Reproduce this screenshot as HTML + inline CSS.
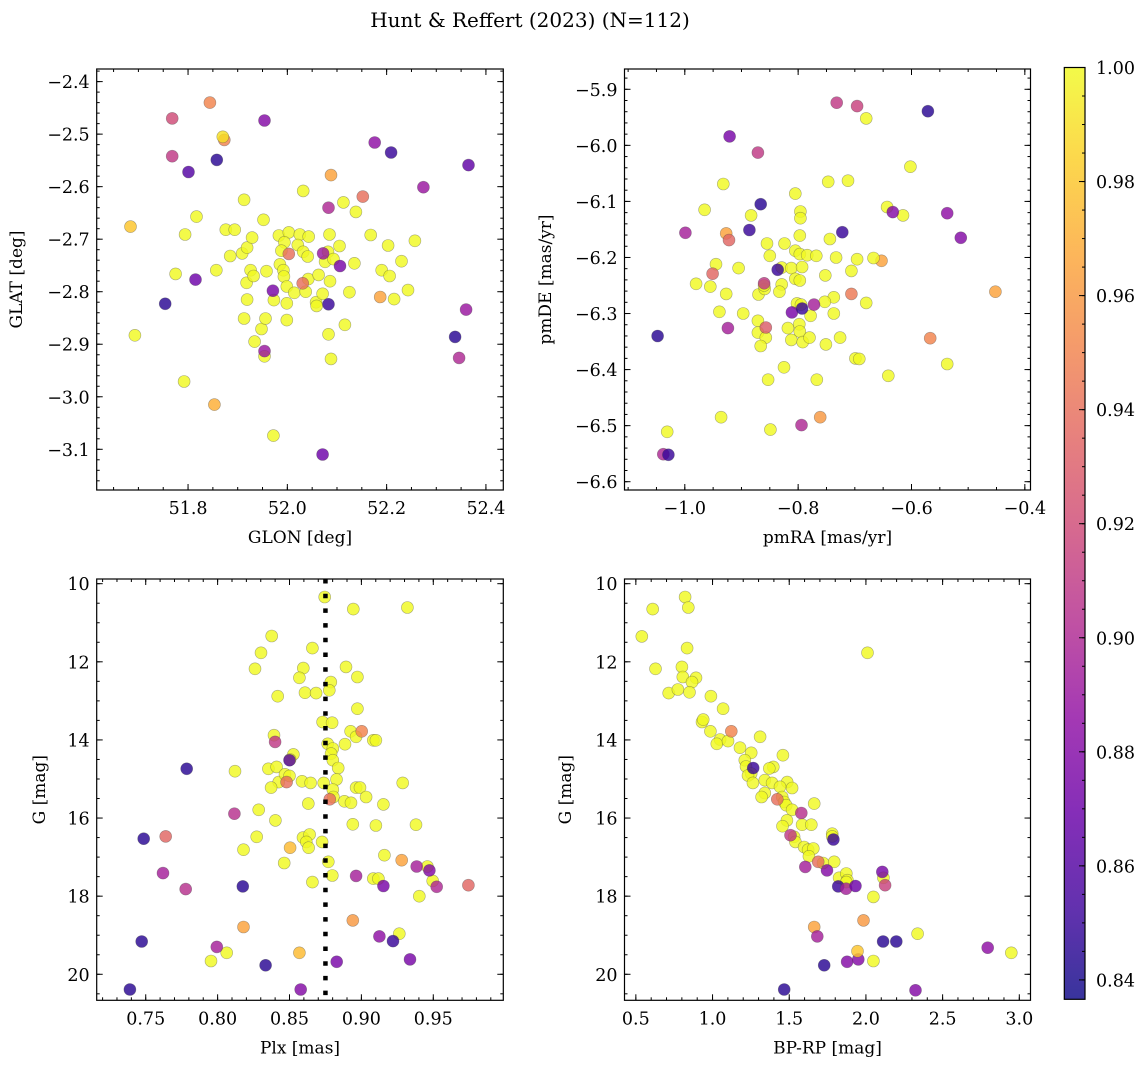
<!DOCTYPE html>
<html><head><meta charset="utf-8"><style>
body{margin:0;background:#fff}
svg{display:block;font-family:"DejaVu Serif","Liberation Serif",serif}
</style></head><body>
<svg id="fig" width="1148" height="1067" viewBox="0 0 1148 1067" xmlns="http://www.w3.org/2000/svg">
<rect width="1148" height="1067" fill="#fff"/>
<text x="530" y="27" font-size="20" text-anchor="middle">Hunt &amp; Reffert (2023) (N=112)</text>
<defs><linearGradient id="cg" x1="0" y1="1" x2="0" y2="0">
<stop offset="0" stop-color="#0d0887"/><stop offset="0.1" stop-color="#41049d"/><stop offset="0.2" stop-color="#6a00a8"/><stop offset="0.3" stop-color="#8f0da4"/><stop offset="0.4" stop-color="#b12a90"/><stop offset="0.5" stop-color="#cc4778"/><stop offset="0.6" stop-color="#e16462"/><stop offset="0.7" stop-color="#f2844b"/><stop offset="0.8" stop-color="#fca636"/><stop offset="0.9" stop-color="#fcce25"/><stop offset="1" stop-color="#f0f921"/>
</linearGradient></defs>
</svg>
<script>
// ---- Panel 1: GLON / GLAT
const p1_x=[51.817,51.794,51.775,51.857,51.876,51.894,51.885,51.913,51.909,51.919,51.929,51.926,51.918,51.932,51.919,51.913,51.948,51.934,51.956,51.954,51.952,51.958,51.973,51.983,52.003,51.994,51.988,51.985,51.992,51.993,51.999,51.999,51.999,52.014,52.032,52.025,52.021,52.032,52.041,52.043,52.042,52.037,52.058,52.059,52.071,52.085,52.082,52.076,52.093,52.086,52.105,52.113,52.138,52.135,52.125,52.116,52.083,52.088,52.168,52.203,52.19,52.206,52.23,52.215,52.243,52.257,52.063,51.693,51.792,51.972,
51.844,51.768,51.954,51.873,51.768,51.858,51.801,52.176,52.209,52.365,52.088,52.274,52.152,52.083,51.684,51.754,51.815,51.853,52.071,52.346,52.338,52.36,52.187,52.083,51.971,51.954,52.106,52.072,52.003,52.031,51.87];
const p1_y=[-2.657,-2.691,-2.766,-2.759,-2.682,-2.682,-2.732,-2.625,-2.727,-2.716,-2.697,-2.759,-2.783,-2.77,-2.815,-2.851,-2.871,-2.895,-2.851,-2.923,-2.663,-2.761,-2.816,-2.693,-2.687,-2.706,-2.722,-2.748,-2.759,-2.771,-2.79,-2.822,-2.854,-2.802,-2.608,-2.691,-2.711,-2.724,-2.733,-2.695,-2.776,-2.8,-2.82,-2.827,-2.804,-2.691,-2.724,-2.743,-2.738,-2.78,-2.713,-2.63,-2.648,-2.746,-2.801,-2.863,-2.881,-2.928,-2.692,-2.712,-2.759,-2.77,-2.742,-2.814,-2.797,-2.703,-2.768,-2.883,-2.971,-3.074,
-2.44,-2.47,-2.474,-2.511,-2.542,-2.549,-2.572,-2.516,-2.535,-2.559,-2.578,-2.601,-2.619,-2.64,-2.676,-2.823,-2.777,-3.015,-3.11,-2.926,-2.886,-2.834,-2.81,-2.824,-2.798,-2.913,-2.751,-2.727,-2.728,-2.784,-2.505];
const p1_p=[1,1,1,1,1,1,1,1,1,1,1,1,1,1,1,1,1,1,1,1,1,1,1,1,1,1,1,1,1,1,1,1,1,1,1,1,1,1,1,1,1,1,1,1,1,1,1,1,1,1,1,1,1,1,1,1,1,1,1,1,1,1,1,1,1,1,1,1,1,1,
0.95,0.92,0.88,0.95,0.91,0.845,0.86,0.885,0.85,0.865,0.965,0.89,0.94,0.9,0.98,0.845,0.87,0.97,0.87,0.9,0.845,0.89,0.965,0.85,0.875,0.89,0.875,0.89,0.94,0.94,0.99];
// ---- Panel 2: pmRA / pmDE
const p2_x=[-0.68,-0.602,-0.932,-0.747,-0.712,-0.805,-0.965,-0.883,-0.796,-0.796,-0.797,-0.643,-0.615,-0.855,-0.824,-0.744,-0.85,-0.805,-0.797,-0.784,-0.768,-0.733,-0.696,-0.945,-0.905,-0.829,-0.812,-0.793,-0.706,-0.752,-0.805,-0.797,-0.829,-0.98,-0.955,-0.927,-0.87,-0.859,-0.86,-0.833,-0.737,-0.753,-0.68,-0.802,-0.795,-0.778,-0.737,-0.939,-0.897,-0.871,-0.818,-0.798,-0.797,-0.871,-0.857,-0.866,-0.812,-0.792,-0.78,-0.751,-0.726,-0.699,-0.692,-0.537,-0.641,-0.825,-0.853,-0.767,-0.936,-0.849,-1.031,
-0.732,-0.696,-0.571,-0.921,-0.871,-0.866,-0.886,-0.722,-0.999,-0.927,-0.922,-0.633,-0.537,-0.513,-0.836,-0.951,-0.86,-0.452,-0.706,-0.653,-0.772,-0.811,-0.793,-0.924,-0.857,-1.048,-0.567,-0.761,-0.794,-1.038,-1.029,-0.667];
const p2_y=[-5.952,-6.038,-6.069,-6.065,-6.063,-6.086,-6.115,-6.125,-6.118,-6.13,-6.161,-6.11,-6.125,-6.175,-6.175,-6.167,-6.197,-6.188,-6.194,-6.196,-6.197,-6.2,-6.203,-6.212,-6.219,-6.218,-6.219,-6.217,-6.224,-6.232,-6.238,-6.241,-6.248,-6.247,-6.252,-6.265,-6.266,-6.256,-6.25,-6.261,-6.271,-6.279,-6.281,-6.282,-6.284,-6.304,-6.3,-6.297,-6.3,-6.313,-6.326,-6.319,-6.332,-6.334,-6.343,-6.358,-6.347,-6.351,-6.343,-6.355,-6.343,-6.38,-6.381,-6.39,-6.411,-6.396,-6.418,-6.418,-6.485,-6.507,-6.511,
-5.924,-5.93,-5.939,-5.984,-6.013,-6.105,-6.151,-6.155,-6.156,-6.157,-6.169,-6.119,-6.121,-6.165,-6.222,-6.229,-6.246,-6.261,-6.265,-6.206,-6.284,-6.298,-6.291,-6.326,-6.325,-6.34,-6.344,-6.485,-6.499,-6.551,-6.552,-6.201];
const p2_p=[1,1,1,1,1,1,1,1,1,1,1,1,1,1,1,1,1,1,1,1,1,1,1,1,1,1,1,1,1,1,1,1,1,1,1,1,1,1,1,1,1,1,1,1,1,1,1,1,1,1,1,1,1,1,1,1,1,1,1,1,1,1,1,1,1,1,1,1,1,1,1,
0.91,0.915,0.845,0.875,0.91,0.845,0.85,0.85,0.895,0.965,0.935,0.88,0.885,0.88,0.85,0.935,0.91,0.965,0.945,0.965,0.895,0.875,0.85,0.895,0.93,0.845,0.95,0.96,0.9,0.9,0.85,1];
// ---- Panel 3: Plx / G
const p3_x=[0.8745,0.8944,0.932,0.8376,0.8659,0.8302,0.826,0.8596,0.8569,0.8893,0.8972,0.8787,0.8777,0.8418,0.8608,0.8685,0.8972,0.873,0.8796,0.8392,0.8925,0.8963,0.8886,0.9083,0.9101,0.8766,0.8801,0.8789,0.8801,0.8527,0.8504,0.8353,0.841,0.8121,0.8839,0.8425,0.8469,0.85,0.8372,0.8587,0.8647,0.8738,0.8827,0.8801,0.8805,0.8963,0.899,0.9033,0.8882,0.8928,0.9153,0.8631,0.9287,0.8286,0.8402,0.894,0.9101,0.938,0.8272,0.8594,0.864,0.8617,0.8633,0.8727,0.818,0.8463,0.8659,0.877,0.8798,0.916,0.9083,0.9118,0.9459,0.9496,0.9403,0.9264,0.8063,0.7954,
0.7785,0.7486,0.7639,0.762,0.7778,0.8117,0.84,0.85,0.848,0.8175,0.818,0.7472,0.739,0.7994,0.8334,0.8569,0.8504,0.8578,0.8828,0.9002,0.878,0.894,0.9125,0.922,0.9338,0.8963,0.9153,0.928,0.9385,0.9473,0.9524,0.9744];
const p3_y=[10.34,10.65,10.61,11.34,11.65,11.77,12.18,12.16,12.41,12.13,12.39,12.52,12.73,12.88,12.79,12.8,13.2,13.54,13.56,13.88,13.78,13.92,14.11,14.01,14.01,14.1,14.22,14.35,14.52,14.37,14.5,14.74,14.69,14.8,14.72,15.08,14.88,14.92,15.22,15.06,15.1,15.1,15.01,15.27,15.46,15.22,15.22,15.46,15.57,15.61,15.65,15.63,15.1,15.79,16.06,16.16,16.19,16.17,16.48,16.5,16.42,16.61,16.76,16.61,16.81,17.15,17.64,17.12,17.47,16.95,17.55,17.55,17.24,17.61,18.0,18.96,19.45,19.66,
14.74,16.53,16.47,17.41,17.82,15.89,14.05,14.52,15.08,17.75,18.79,19.16,20.39,19.3,19.77,19.45,16.76,20.39,19.68,13.78,15.52,18.62,19.03,19.15,19.62,17.48,17.74,17.08,17.24,17.34,17.76,17.72];
const p3_p=[1,1,1,1,1,1,1,1,1,1,1,1,1,1,1,1,1,1,1,1,1,1,1,1,1,1,1,1,1,1,1,1,1,1,1,1,1,1,1,1,1,1,1,1,1,1,1,1,1,1,1,1,1,1,1,1,1,1,1,1,1,1,1,1,1,1,1,1,1,1,1,1,1,1,1,1,1,1,
0.845,0.845,0.935,0.895,0.905,0.905,0.91,0.86,0.94,0.845,0.965,0.845,0.845,0.895,0.845,0.975,0.975,0.88,0.875,0.95,0.94,0.96,0.885,0.85,0.875,0.895,0.875,0.965,0.895,0.88,0.9,0.935];
const plxMean=0.875;
// ---- Panel 4: BP-RP / G
const p4_x=[0.821,0.61,0.842,0.539,0.834,2.01,0.628,0.8,0.806,0.892,0.866,0.714,0.774,0.85,0.989,1.069,0.931,0.939,0.986,1.31,1.049,1.028,1.101,1.179,1.252,1.459,1.21,1.218,1.252,1.396,1.37,1.231,1.263,1.341,1.388,1.487,1.519,1.44,1.341,1.32,1.454,1.467,1.48,1.519,1.663,1.485,1.456,1.584,1.644,1.78,1.78,1.532,1.54,1.597,1.623,1.657,1.628,1.72,1.793,1.825,1.872,1.879,1.872,2.114,2.049,2.337,2.049,2.948,
1.122,1.265,1.422,1.579,1.508,1.788,1.605,1.689,1.746,1.819,1.871,1.932,2.107,2.125,1.663,1.683,1.984,2.112,2.198,1.728,1.877,1.95,1.945,1.467,2.323,2.794];
const p4_y=[10.34,10.65,10.61,11.35,11.65,11.77,12.18,12.13,12.39,12.41,12.52,12.8,12.71,12.78,12.88,13.2,13.54,13.48,13.78,13.92,13.99,14.1,14.03,14.2,14.33,14.39,14.52,14.68,14.86,14.69,14.73,14.91,15.1,15.03,15.1,15.08,15.23,15.2,15.36,15.46,15.46,15.59,15.67,15.79,15.63,16.06,16.21,16.17,16.17,16.4,16.47,16.48,16.61,16.74,16.81,16.78,16.98,17.15,17.12,17.53,17.42,17.59,17.64,17.53,18.02,18.96,19.66,19.45,
13.78,14.72,15.52,15.87,16.44,16.55,17.25,17.12,17.34,17.75,17.81,17.74,17.38,17.72,18.79,19.03,18.62,19.16,19.16,19.77,19.68,19.62,19.41,20.39,20.41,19.32];
const p4_p=[1,1,1,1,1,1,1,1,1,1,1,1,1,1,1,1,1,1,1,1,1,1,1,1,1,1,1,1,1,1,1,1,1,1,1,1,1,1,1,1,1,1,1,1,1,1,1,1,1,1,1,1,1,1,1,1,1,1,1,1,1,1,1,1,1,1,1,1,
0.95,0.85,0.94,0.905,0.91,0.85,0.895,0.94,0.88,0.85,0.895,0.87,0.875,0.915,0.965,0.895,0.96,0.845,0.845,0.845,0.88,0.88,0.98,0.845,0.88,0.885];
// ---- Colorbar
const cbMin=0.8366, cbMax=1.0;
const cbTicks=[0.84,0.86,0.88,0.90,0.92,0.94,0.96,0.98,1.00];

const NS="http://www.w3.org/2000/svg";
const svg=document.getElementById('fig');
function el(tag,attrs,parent){const e=document.createElementNS(NS,tag);for(const k in attrs)e.setAttribute(k,attrs[k]);(parent||svg).appendChild(e);return e;}
const stops=[[13,8,135],[65,4,157],[106,0,168],[143,13,164],[177,42,144],[204,71,120],[225,100,98],[242,132,75],[252,166,54],[252,206,37],[240,249,33]];
function plasma(v){let t=(v-cbMin)/(cbMax-cbMin);t=Math.max(0,Math.min(1,t))*10;const i=Math.min(9,Math.floor(t)),f=t-i;const a=stops[i],b=stops[i+1];return 'rgb('+a.map((c,k)=>Math.round(c+(b[k]-c)*f)).join(',')+')';}
function fmt(v,d){return v.toFixed(d).replace('-','\u2212');}
function ticksBetween(a,b,step){const out=[];const s=Math.ceil(Math.min(a,b)/step-1e-6);for(let k=s;k*step<=Math.max(a,b)+1e-9;k++)out.push(+(k*step).toFixed(6));return out;}

function panel(name,box,xr,yr,xs,ys,cols,xMaj,xMin,xDec,yMaj,yMin,yDec,xlab,ylab,ylabX){
  const [L,T,R,B]=box;
  const g=el('g',{});
  
  
  const X=v=>L+(v-xr[0])/(xr[1]-xr[0])*(R-L);
  const Y=v=>T+(v-yr[0])/(yr[1]-yr[0])*(B-T);
  const cl='clip-'+name;
  const cp=el('clipPath',{id:cl},g);el('rect',{x:L,y:T,width:R-L,height:B-T},cp);
  const pts=el('g',{'clip-path':'url(#'+cl+')'},g);
  for(let i=0;i<xs.length;i++){
    const c=el('circle',{cx:X(xs[i]).toFixed(1),cy:Y(ys[i]).toFixed(1),r:6,fill:plasma(cols[i]),'fill-opacity':0.82,stroke:'#444','stroke-opacity':0.45,'stroke-width':0.6},pts);
    
    
  }
  const tk=el('g',{stroke:'#000','stroke-width':1},g);
  ticksBetween(xr[0],xr[1],xMin).forEach(v=>{const x=X(v);el('line',{x1:x,x2:x,y1:B,y2:B-3},tk);el('line',{x1:x,x2:x,y1:T,y2:T+3},tk);});
  ticksBetween(xr[0],xr[1],xMaj).forEach(v=>{const x=X(v);el('line',{x1:x,x2:x,y1:B,y2:B-6},tk);el('line',{x1:x,x2:x,y1:T,y2:T+6},tk);
    const t=el('text',{x:x,y:B+24,'font-size':17.5,'text-anchor':'middle',stroke:'none'},g);t.textContent=fmt(v,xDec);
    
    });
  ticksBetween(yr[0],yr[1],yMin).forEach(v=>{const y=Y(v);el('line',{x1:L,x2:L+3,y1:y,y2:y},tk);el('line',{x1:R,x2:R-3,y1:y,y2:y},tk);});
  ticksBetween(yr[0],yr[1],yMaj).forEach(v=>{const y=Y(v);el('line',{x1:L,x2:L+6,y1:y,y2:y},tk);el('line',{x1:R,x2:R-6,y1:y,y2:y},tk);
    const t=el('text',{x:L-7,y:y+6.5,'font-size':17.5,'text-anchor':'end'},g);t.textContent=fmt(v,yDec);
    
    });
  el('rect',{x:L,y:T,width:R-L,height:B-T,fill:'none',stroke:'#000','stroke-width':1.2},g);
  const xl=el('text',{x:(L+R)/2,y:B+53,'font-size':17,'text-anchor':'middle'},g);xl.textContent=xlab;
  
  
  const yl=el('text',{x:0,y:0,'font-size':17,'text-anchor':'middle',transform:'translate('+(ylabX+6)+','+((T+B)/2)+') rotate(-90)'},g);yl.textContent=ylab;
  
  
  return {X,Y,g};
}
panel('glon-glat-panel',[96.7,69,503.3,490],[51.616,52.435],[-2.376,-3.1775],p1_x,p1_y,p1_p,0.2,0.05,1,0.1,0.02,1,'GLON [deg]','GLAT [deg]',16);
panel('proper-motion-panel',[624.5,69,1030.5,490],[-1.1064,-0.39],[-5.8638,-6.6148],p2_x,p2_y,p2_p,0.2,0.05,1,0.1,0.02,1,'pmRA [mas/yr]','pmDE [mas/yr]',545);
const P3=panel('parallax-mag-panel',[96.7,579,503.3,1000.3],[0.7159,0.9987],[9.88,20.666],p3_x,p3_y,p3_p,0.05,0.01,2,2,0.5,0,'Plx [mas]','G [mag]',39);
const ml=el('line',{x1:P3.X(plxMean),x2:P3.X(plxMean),y1:579,y2:1000.3,stroke:'#000','stroke-width':4.5,'stroke-dasharray':'4.5 10.2'});


panel('cmd-panel',[624.5,579,1030.5,1000.3],[0.426,3.073],[9.88,20.666],p4_x,p4_y,p4_p,0.5,0.1,1,2,0.5,0,'BP-RP [mag]','G [mag]',565);

const cb=el('g',{});


const cT=67.5,cB=999.3,cL=1064.3,cR=1085;
const CY=v=>cB-(v-cbMin)/(cbMax-cbMin)*(cB-cT);
el('rect',{x:cL,y:cT,width:cR-cL,height:cB-cT,fill:'url(#cg)','fill-opacity':0.82},cb);
ticksBetween(cbMin,cbMax,0.005).forEach(v=>{const y=CY(v);el('line',{x1:cR,x2:cR-3,y1:y,y2:y,stroke:'#000'},cb);});
cbTicks.forEach(v=>{const y=CY(v);el('line',{x1:cR,x2:cR-6,y1:y,y2:y,stroke:'#000'},cb);
  const t=el('text',{x:1096,y:y+6.5,'font-size':17.5},cb);t.textContent=v.toFixed(2);
  
  });
el('rect',{x:cL,y:cT,width:cR-cL,height:cB-cT,fill:'none',stroke:'#000','stroke-width':1.2},cb);
</script>
</body></html>
